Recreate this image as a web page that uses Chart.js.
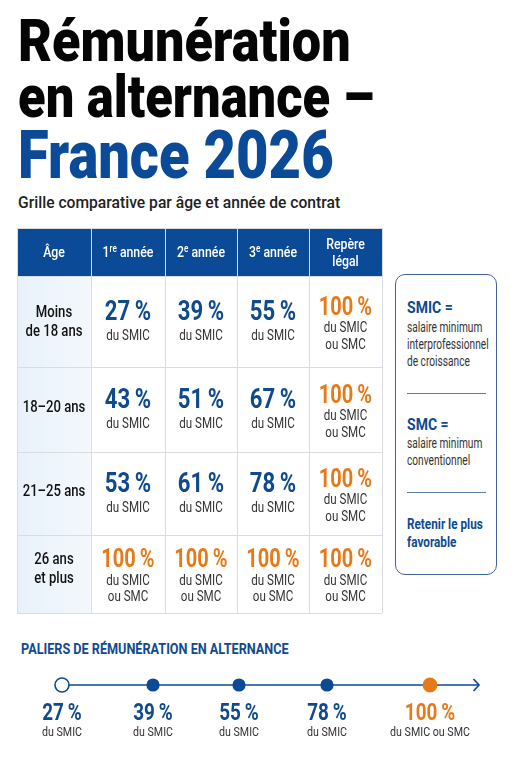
<!DOCTYPE html>
<html lang="fr">
<head>
<meta charset="utf-8">
<title>Rémunération en alternance – France 2026</title>
<script src="https://cdn.jsdelivr.net/npm/chart.js@4/dist/chart.umd.min.js"></script>
<style>
  html, body { margin: 0; padding: 0; background: #fff; }
  body { position: relative; width: 511px; height: 768px; overflow: hidden; font-family: Roboto, sans-serif; }
  .t { position: absolute; white-space: nowrap; transform-origin: left top; }
  .title { left: 18px; font-size: 60px; font-weight: 900; line-height: 60px; color: #050505; transform: scaleX(.87); }
  .sub { left: 18px; top: 192px; font-size: 17px; font-weight: 500; line-height: 20px; color: #222; transform: scaleX(.92); }
  .tiers { left: 21px; top: 640px; font-size: 15.5px; font-weight: 700; line-height: 18px; color: #0f4a8e; transform: scaleX(.816); }
  canvas { position: absolute; display: block; }
  #gridChart { left: 0; top: 220px; }
  #tierChart { left: 0; top: 660px; }
  .box { position: absolute; left: 395px; top: 274px; width: 100px; height: 299px; border: 1.5px solid #41659a; border-radius: 10px; background: #fff; }
  .box hr { position: absolute; left: 11px; width: 79px; margin: 0; border: 0; border-top: 1.5px solid #5f7ea6; }
  .term { left: 11px; font-size: 16.5px; font-weight: 700; line-height: 18px; color: #0f4a8e; transform: scaleX(.85); }
  .def { left: 11px; font-size: 14.5px; line-height: 17px; color: #333; transform: scaleX(.7); }
  .keep { left: 11px; top: 241px; font-size: 14.5px; font-weight: 700; line-height: 18px; color: #0f4a8e; transform: scaleX(.81); }
</style>
</head>
<body>
<div class="t title" style="top:11px">Rémunération</div>
<div class="t title" style="top:67px;transform:scaleX(.845)">en alternance –</div>
<div class="t title" style="top:123px;font-size:66px;line-height:66px;color:#0b4a97;transform:scaleX(.85)">France 2026</div>
<div class="t sub">Grille comparative par âge et année de contrat</div>

<canvas id="gridChart" width="511" height="400"></canvas>

<div class="box">
  <div class="t term" style="top:24px">SMIC =</div>
  <div class="t def" style="top:44px">salaire minimum<br>interprofessionnel<br>de croissance</div>
  <hr style="top:118px">
  <div class="t term" style="top:141px">SMC =</div>
  <div class="t def" style="top:160px">salaire minimum<br>conventionnel</div>
  <hr style="top:217px">
  <div class="t keep">Retenir le plus<br>favorable</div>
</div>

<div class="t tiers">PALIERS DE RÉMUNÉRATION EN ALTERNANCE</div>
<canvas id="tierChart" width="511" height="108"></canvas>

<script>
// data
const headerLabels = ["Âge", "1ʳᵉ année", "2ᵉ année", "3ᵉ année", "Repère\nlégal"];
const ageLabels = ["Moins\nde 18 ans", "18–20 ans", "21–25 ans", "26 ans\net plus"];
const year1Rates = [27, 43, 53, 100];
const year2Rates = [39, 51, 61, 100];
const year3Rates = [55, 67, 78, 100];
const legalRates = [100, 100, 100, 100];
const tierRates = [27, 39, 55, 78, 100];
const tierNotes = ["du SMIC", "du SMIC", "du SMIC", "du SMIC", "du SMIC ou SMC"];

// layout
const colWidths = [74, 74, 72, 72, 73];
const rowHeights = [48, 91, 85, 83, 78];
const ageNudges = [0.5, -2, -2, -5];
const tierOffsets = [62, 153, 239, 327, 430];
const axisEnd = 478;

const BLUE = "#0b4a97";
const TEXT_BLUE = "#0f4a8e";
const ORANGE = "#e67a18";
const INK = "#333";

const cumulate = sizes => sizes.reduce((acc, s) => [...acc, acc[acc.length - 1] + s], [0]);
const colEdges = cumulate(colWidths);
const rowEdges = cumulate(rowHeights);
const colCenter = i => (colEdges[i] + colEdges[i + 1]) / 2;
const rowCenter = i => (rowEdges[i] + rowEdges[i + 1]) / 2;

// narrow text: the reference face is a condensed grotesque
const drawText = (ctx, text, x, y, font, color, squeeze = 0.82) => {
  ctx.save();
  ctx.font = font;
  ctx.fillStyle = color;
  ctx.textAlign = "center";
  ctx.textBaseline = "middle";
  ctx.translate(x, y);
  ctx.scale(squeeze, 1);
  ctx.fillText(text, 0, 0);
  ctx.restore();
};

// header cells carry raised ordinals, drawn a size down from the base text
const SUPERS = { "ʳ": "r", "ᵉ": "e" };
const drawHeader = (ctx, label, x, y) => {
  const squeeze = 0.82;
  const runs = [];
  for (const ch of label) {
    const sup = SUPERS[ch];
    const last = runs[runs.length - 1];
    if (last && last.sup === !!sup) last.text += sup || ch;
    else runs.push({ text: sup || ch, sup: !!sup });
  }
  ctx.save();
  const fontOf = run => (run.sup ? "500 10px Roboto" : "500 15px Roboto");
  const width = runs.reduce((w, run) => {
    ctx.font = fontOf(run);
    return w + ctx.measureText(run.text).width;
  }, 0);
  ctx.fillStyle = "#fff";
  ctx.textBaseline = "alphabetic";
  ctx.textAlign = "left";
  ctx.translate(x - (width * squeeze) / 2, y + 5);
  ctx.scale(squeeze, 1);
  let cursor = 0;
  runs.forEach(run => {
    ctx.font = fontOf(run);
    ctx.fillText(run.text, cursor, run.sup ? -5 : 0);
    cursor += ctx.measureText(run.text).width;
  });
  ctx.restore();
};

const pctText = rate => rate + "\u2009%";

const gridPainter = {
  id: "gridPainter",
  beforeDraw(chart) {
    const { ctx, scales: { x, y } } = chart;
    const left = x.getPixelForValue(0), right = x.getPixelForValue(colEdges[5]);
    const top = y.getPixelForValue(0), headBottom = y.getPixelForValue(rowEdges[1]), bottom = y.getPixelForValue(rowEdges[5]);
    const firstRight = x.getPixelForValue(colEdges[1]);
    ctx.save();
    ctx.fillStyle = BLUE;
    ctx.fillRect(left, top, right - left, headBottom - top);
    const shade = ctx.createLinearGradient(left, 0, firstRight, 0);
    shade.addColorStop(0, "#e8f1fa");
    shade.addColorStop(1, "#f4f8fc");
    ctx.fillStyle = shade;
    ctx.fillRect(left, headBottom, firstRight - left, bottom - headBottom);
    ctx.restore();
  },
  afterDatasetsDraw(chart) {
    const { ctx, scales: { x, y } } = chart;
    headerLabels.forEach((label, i) => {
      const lines = label.split("\n");
      lines.forEach((line, j) => {
        const yy = y.getPixelForValue(rowCenter(0)) + (j - (lines.length - 1) / 2) * 17;
        drawHeader(ctx, line, x.getPixelForValue(colCenter(i)), yy);
      });
    });
    ageLabels.forEach((label, r) => {
      const lines = label.split("\n");
      lines.forEach((line, j) => {
        const yy = y.getPixelForValue(rowCenter(r + 1)) + (j - (lines.length - 1) / 2) * 19 + ageNudges[r];
        drawText(ctx, line, x.getPixelForValue(colCenter(0)), yy, "500 16px Roboto", "#111");
      });
    });
    chart.data.datasets.forEach((ds, d) => {
      chart.getDatasetMeta(d).data.forEach((pt, r) => {
        const rate = ds.rates[r];
        if (rate === 100) {
          drawText(ctx, pctText(rate), pt.x, pt.y - 13, "700 25px Roboto", ORANGE, 0.8);
          drawText(ctx, "du SMIC", pt.x, pt.y + 7, "400 14.5px Roboto", INK, 0.8);
          drawText(ctx, "ou SMC", pt.x, pt.y + 23.5, "400 14.5px Roboto", INK, 0.8);
        } else {
          drawText(ctx, pctText(rate), pt.x, pt.y - 8, "700 27px Roboto", TEXT_BLUE);
          drawText(ctx, "du SMIC", pt.x, pt.y + 14.5, "400 14.5px Roboto", INK, 0.8);
        }
      });
    });
  }
};

new Chart(document.getElementById("gridChart"), {
  type: "scatter",
  plugins: [gridPainter],
  data: {
    datasets: [year1Rates, year2Rates, year3Rates, legalRates].map((rates, c) => ({
      rates,
      pointRadius: 0,
      data: rates.map((_, r) => ({ x: colCenter(c + 1), y: rowCenter(r + 1) }))
    }))
  },
  options: {
    responsive: false,
    animation: false,
    layout: { autoPadding: false, padding: { left: 17, top: 8, right: 129, bottom: 7 } },
    plugins: { legend: { display: false }, tooltip: { enabled: false } },
    events: [],
    scales: {
      x: {
        type: "linear", min: 0, max: colEdges[5],
        afterBuildTicks: axis => { axis.ticks = colEdges.map(value => ({ value })); },
        ticks: { display: false },
        border: { display: false },
        grid: { drawTicks: false, color: "#d9dde3", lineWidth: 1 }
      },
      y: {
        type: "linear", min: 0, max: rowEdges[5], reverse: true,
        afterBuildTicks: axis => { axis.ticks = rowEdges.map(value => ({ value })); },
        ticks: { display: false },
        border: { display: false },
        grid: { drawTicks: false, color: "#d9dde3", lineWidth: 1 }
      }
    }
  }
});

const tierPainter = {
  id: "tierPainter",
  afterDatasetsDraw(chart) {
    const { ctx, scales: { x, y } } = chart;
    const tipX = x.getPixelForValue(axisEnd + 1), tipY = y.getPixelForValue(0);
    ctx.save();
    ctx.strokeStyle = BLUE;
    ctx.lineWidth = 1.7;
    ctx.beginPath();
    ctx.moveTo(tipX - 5.5, tipY - 6);
    ctx.lineTo(tipX, tipY);
    ctx.lineTo(tipX - 5.5, tipY + 6);
    ctx.stroke();
    ctx.restore();
    chart.getDatasetMeta(1).data.forEach((pt, i) => {
      const rate = tierRates[i];
      drawText(ctx, pctText(rate), pt.x, 54.5, "700 23px Roboto", rate === 100 ? ORANGE : TEXT_BLUE);
      drawText(ctx, tierNotes[i], pt.x, 73, "400 13.5px Roboto", INK, 0.79);
    });
  }
};

new Chart(document.getElementById("tierChart"), {
  type: "scatter",
  plugins: [tierPainter],
  data: {
    datasets: [
      {
        order: 2,
        showLine: true, pointRadius: 0, borderColor: BLUE, borderWidth: 1.7,
        data: [{ x: tierOffsets[0], y: 0 }, { x: axisEnd, y: 0 }]
      },
      {
        order: 1,
        showLine: false,
        data: tierOffsets.map(x => ({ x, y: 0 })),
        pointRadius: tierRates.map((r, i) => (i === 0 ? 7 : r === 100 ? 6.6 : 5.8)),
        pointBackgroundColor: tierRates.map((r, i) => (i === 0 ? "#fff" : r === 100 ? ORANGE : BLUE)),
        pointBorderColor: tierRates.map(r => (r === 100 ? ORANGE : BLUE)),
        pointBorderWidth: 1.6
      }
    ]
  },
  options: {
    responsive: false,
    animation: false,
    layout: { autoPadding: false, padding: 0 },
    plugins: { legend: { display: false }, tooltip: { enabled: false } },
    events: [],
    scales: {
      x: { type: "linear", min: 0, max: 511, display: false },
      y: { type: "linear", min: -25, max: 83, reverse: true, display: false }
    }
  }
});
</script>
</body>
</html>
